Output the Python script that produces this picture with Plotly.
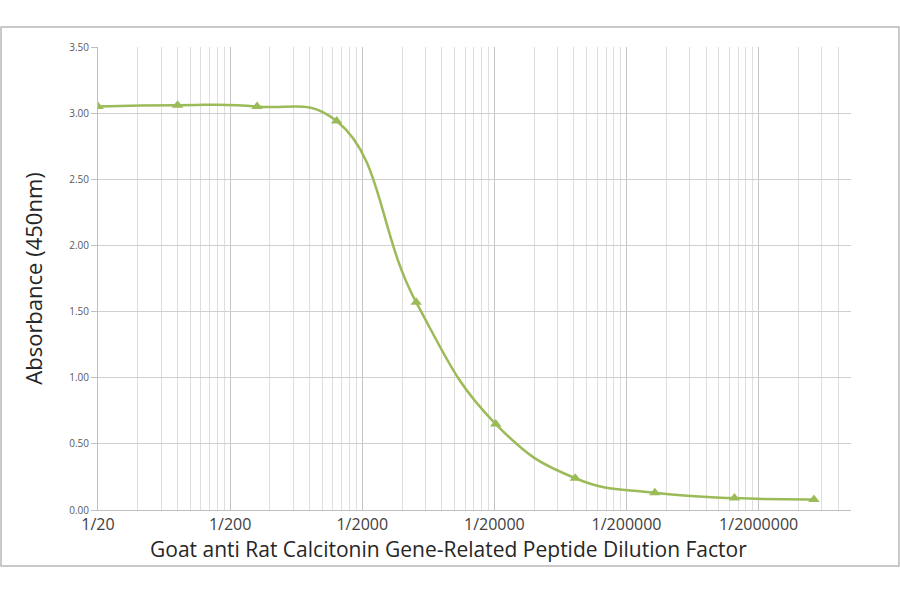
import math
import plotly.graph_objects as go

# Dilution series (4-fold) and measured absorbance at 450 nm
dilution = [20, 80, 320, 1280, 5120, 20480, 81920, 327680, 1310720, 5242880]
absorbance = [3.05, 3.06, 3.05, 2.94, 1.57, 0.65, 0.24, 0.13, 0.09, 0.08]

# Major ticks every decade starting at 1/20
major_ticks = [20, 200, 2000, 20000, 200000, 2000000]
major_labels = ["1/20", "1/200", "1/2000", "1/20000", "1/200000", "1/2000000"]

# Excel-style minor gridlines: multiples of the decade start
minor_ticks = []
for base in major_ticks:
    for k in range(2, 10):
        if base * k <= 1e7:
            minor_ticks.append(base * k)

green = "#9BBB59"

fig = go.Figure()
fig.add_trace(go.Scatter(
    x=dilution,
    y=absorbance,
    mode="lines+markers",
    line=dict(color=green, width=2.5, shape="spline", smoothing=1.3),
    marker=dict(symbol="triangle-up", size=10, color=green),
    showlegend=False,
))

fig.update_xaxes(
    type="log",
    range=[math.log10(20), 7],
    tickvals=major_ticks,
    ticktext=major_labels,
    tickfont=dict(size=16, color="#404040"),
    showgrid=True,
    gridcolor="#c4c4c4",
    gridwidth=1,
    minor=dict(tickvals=minor_ticks, showgrid=True, gridcolor="#dedede", gridwidth=1),
    showline=True,
    linecolor="#bfbfbf",
    ticks="",
    zeroline=False,
)
fig.update_yaxes(
    range=[0, 3.5],
    dtick=0.5,
    tickformat=".2f",
    tickfont=dict(size=10, color="#595959"),
    showgrid=True,
    gridcolor="#cfcfcf",
    showline=True,
    linecolor="#bfbfbf",
    ticks="outside",
    ticklen=6,
    tickcolor="#bfbfbf",
    title=dict(text="Absorbance (450nm)", font=dict(size=22, color="#262626"), standoff=20),
    zeroline=False,
)

# x title sits a little left of the plot centre in the original
fig.add_annotation(
    text="Goat anti Rat Calcitonin Gene-Related Peptide Dilution Factor",
    xref="paper", yref="paper", x=0.4655, y=-0.084,
    xanchor="center", yanchor="middle", showarrow=False,
    font=dict(size=21, color="#262626"),
)

# outer frame around the whole chart
fig.add_shape(type="rect", xref="paper", yref="paper",
              x0=-0.1288, x1=1.0637, y0=-0.121, y1=1.0432,
              line=dict(color="#b8b8b8", width=1.5))

fig.update_layout(
    width=900,
    height=594,
    margin=dict(l=98, r=49, t=47, b=84),
    plot_bgcolor="white",
    paper_bgcolor="white",
    font=dict(family="Open Sans, Noto Sans, sans-serif"),
)

# drop the browser's default body margin so the figure sits at the window corner
fig.write_html("out.html", config={"displayModeBar": False},
               post_script="document.body.style.margin='0px';")
